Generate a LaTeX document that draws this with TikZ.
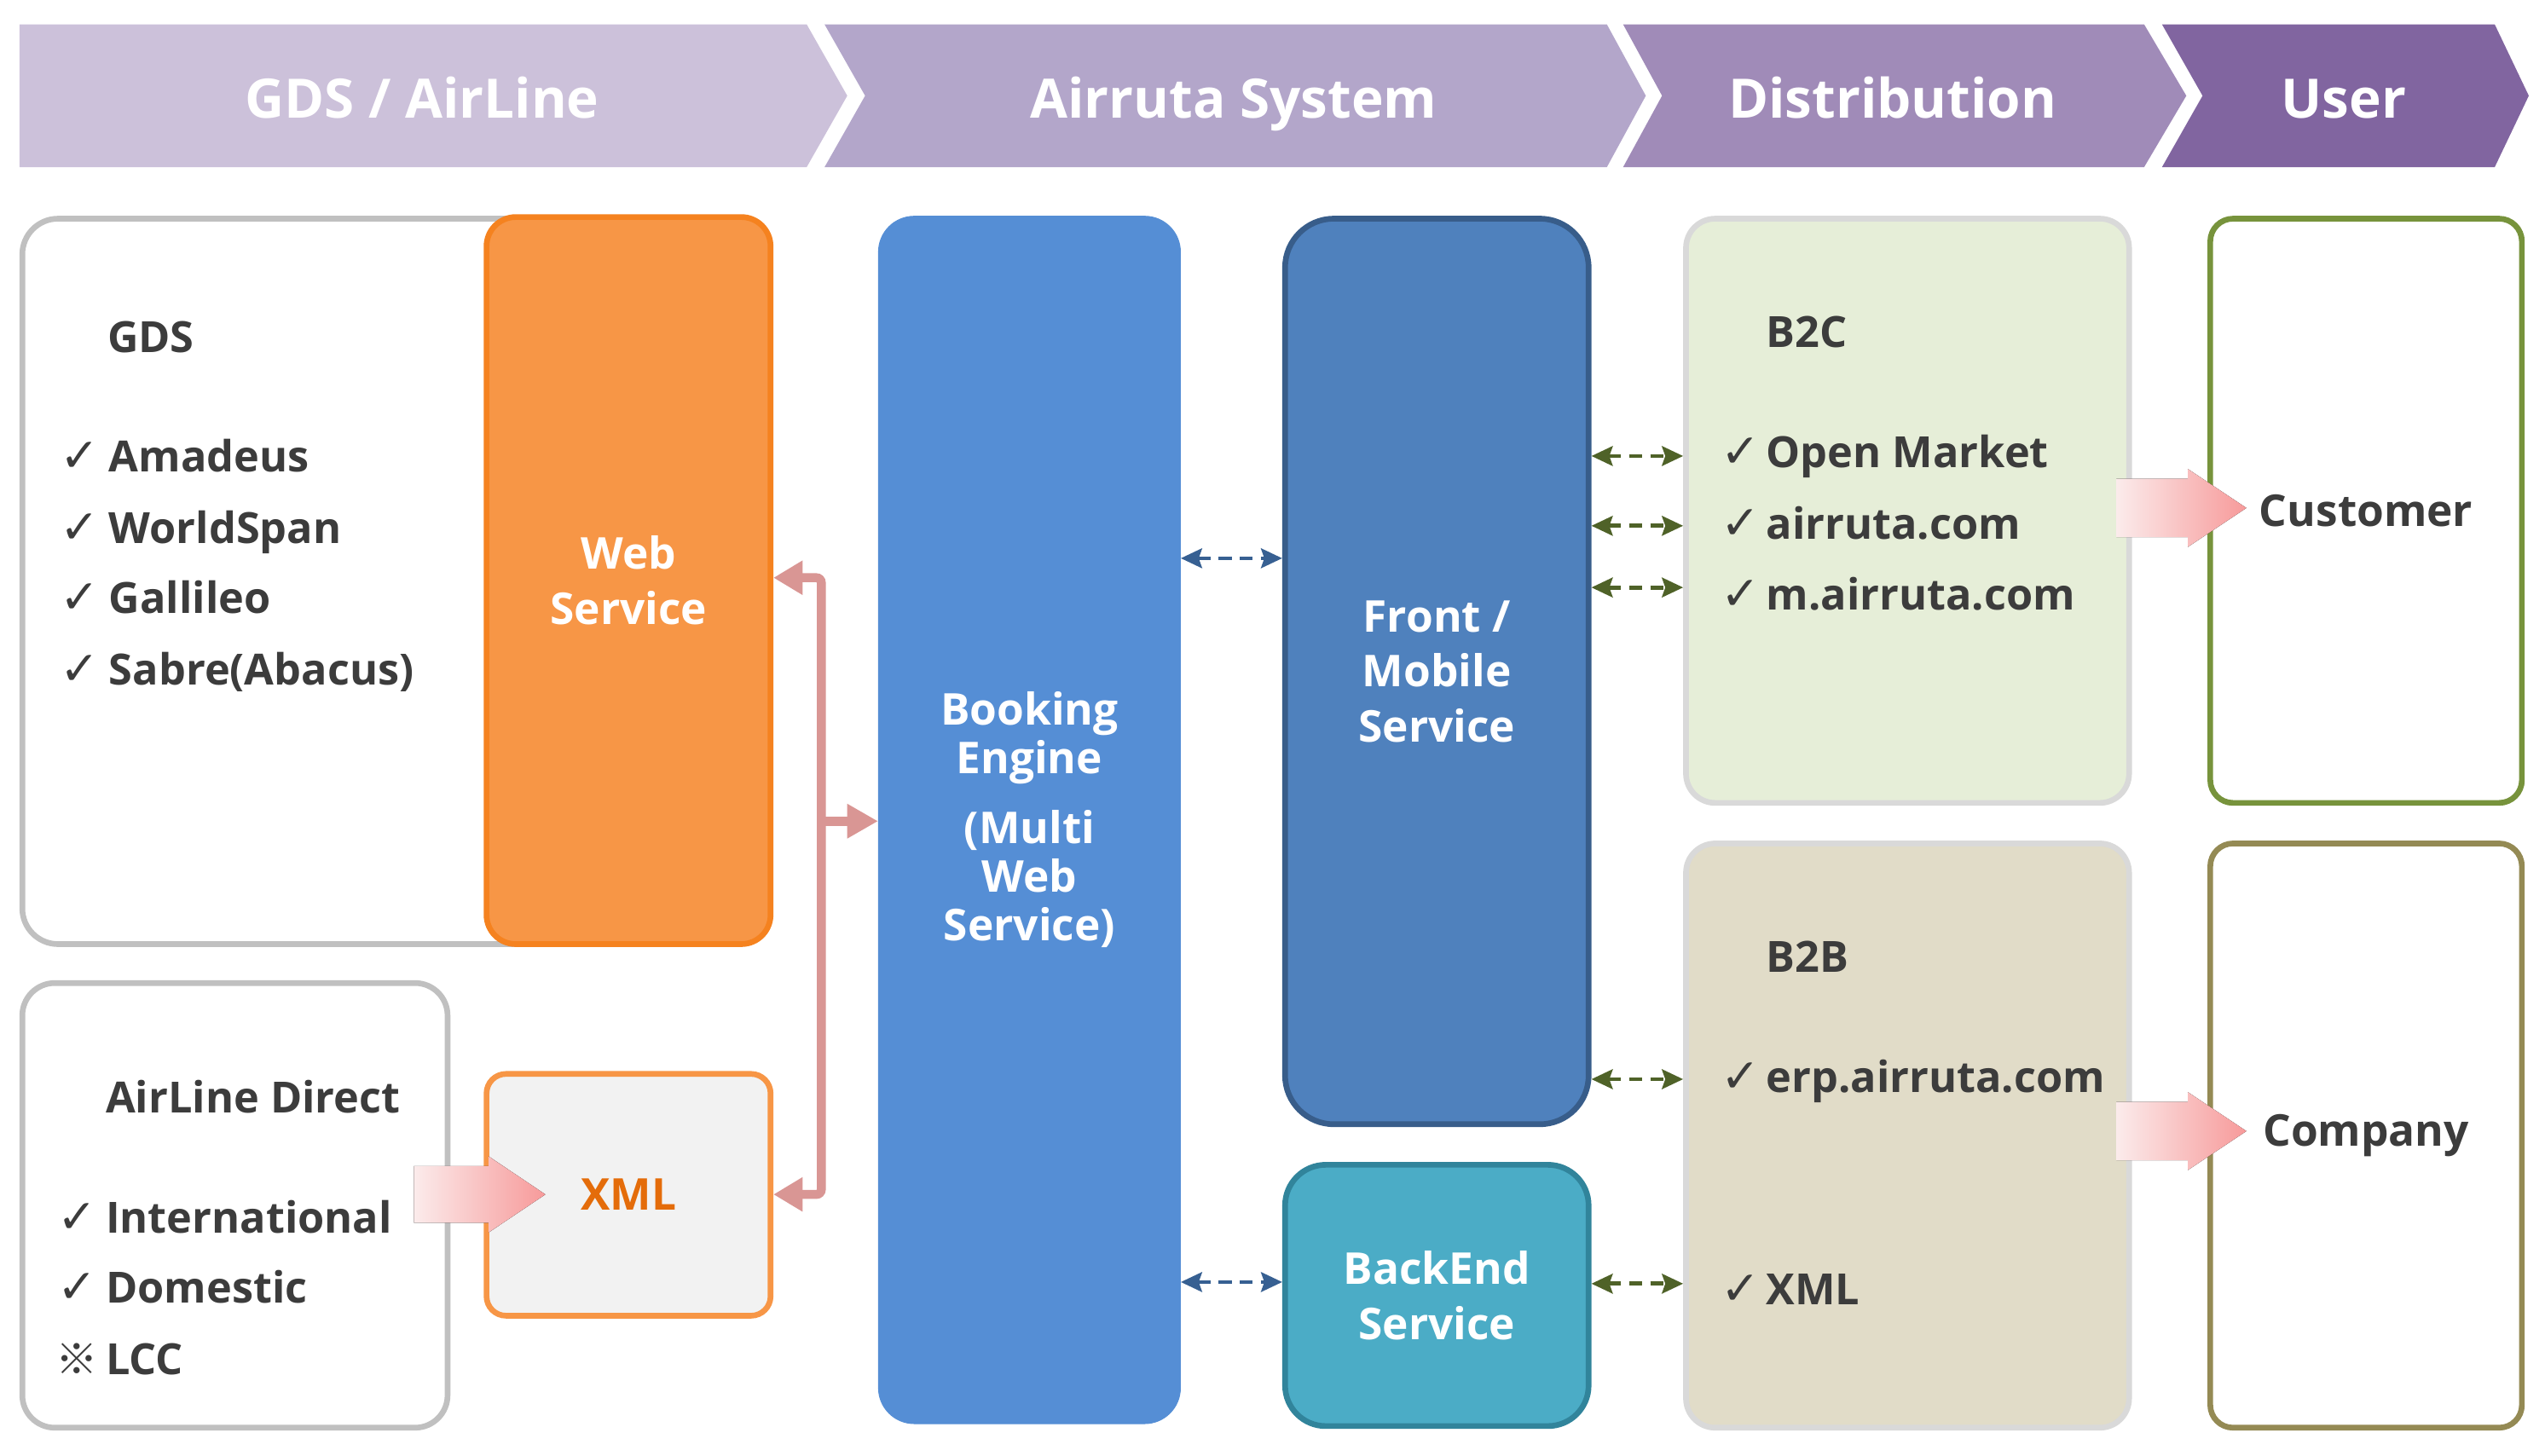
\documentclass[tikz,border=0pt]{standalone}
\usepackage{fontspec}
\setmainfont{Open Sans}
\newfontfamily\symfont{DejaVu Sans}
\newfontfamily\cjkfont{Noto Sans CJK KR}
\usetikzlibrary{arrows.meta}
\definecolor{banA}{HTML}{CCC1DA}
\definecolor{banB}{HTML}{B3A6CA}
\definecolor{banC}{HTML}{A08BB8}
\definecolor{banD}{HTML}{8165A0}
\definecolor{txt}{HTML}{3C3C3C}
\definecolor{gbord}{HTML}{C0C0C0}
\definecolor{orfill}{HTML}{F79646}
\definecolor{ordraw}{HTML}{F5821F}
\definecolor{xmlfill}{HTML}{F2F2F2}
\definecolor{xmltxt}{HTML}{E46C0A}
\definecolor{bookfill}{HTML}{558ED5}
\definecolor{frontfill}{HTML}{4F81BD}
\definecolor{frontdraw}{HTML}{385D8A}
\definecolor{backfill}{HTML}{4BACC6}
\definecolor{backdraw}{HTML}{31849B}
\definecolor{b2cfill}{HTML}{E6EED8}
\definecolor{b2bfill}{HTML}{E1DCC8}
\definecolor{lgbord}{HTML}{D9D9D9}
\definecolor{custdraw}{HTML}{77933C}
\definecolor{compdraw}{HTML}{948A54}
\definecolor{pinkline}{HTML}{D99694}
\definecolor{bluedash}{HTML}{376092}
\definecolor{greendash}{HTML}{4F6228}
\definecolor{arrowpink}{HTML}{F79A9A}
\definecolor{arrowpale}{HTML}{FBEBEB}
\newcommand{\mychk}{\makebox[30pt][l]{\mdseries\symfont\fontsize{29}{29}\selectfont ✓}}
\newcommand{\mychkb}{\makebox[28pt][l]{\mdseries\symfont\fontsize{29}{29}\selectfont ✓}}
\newcommand{\mykome}{\makebox[31pt][l]{\mdseries\cjkfont\fontsize{26}{26}\selectfont ※}}
\begin{document}
\begin{tikzpicture}[x=1pt,y=-1pt,
  box/.style={rectangle, line width=3.5pt, inner sep=0pt, anchor=north west},
  lbl/.style={text=white, font=\fontsize{27}{34}\selectfont\bfseries, align=center},
  itemtxt/.style={text=txt, font=\fontsize{26.5}{34}\selectfont\bfseries, inner sep=0pt, anchor=base west},
  bantxt/.style={text=white, font=\fontsize{33.5}{40}\selectfont\bfseries, inner sep=0pt, anchor=base},
  bdash/.style={draw=bluedash, line width=2.5pt, dash pattern=on 8pt off 5pt,
     {Stealth[length=13pt,width=12pt,inset=2pt]}-{Stealth[length=13pt,width=12pt,inset=2pt]}},
  gdash/.style={draw=greendash, line width=2.5pt, dash pattern=on 8pt off 5pt,
     {Stealth[length=13pt,width=12pt,inset=2pt]}-{Stealth[length=13pt,width=12pt,inset=2pt]}},
  pinkconn/.style={draw=pinkline, line width=5.5pt},
  blockarrow/.style={left color=arrowpale, right color=arrowpink}
]
\useasboundingbox (0,0) rectangle (1568,897);

% ---- banner chevrons ----
\fill[banA] (12,15) -- (497,15) -- (522,59) -- (497,103) -- (12,103) -- cycle;
\fill[banB] (508,15) -- (990,15) -- (1014,59) -- (990,103) -- (508,103) -- (533,59) -- cycle;
\fill[banC] (1000,15) -- (1321,15) -- (1347,59) -- (1321,103) -- (1000,103) -- (1024,59) -- cycle;
\fill[banD] (1332,15) -- (1537,15) -- (1558,59) -- (1537,103) -- (1332,103) -- (1357,59) -- cycle;
\node[bantxt] (banGDS) at (260,72.5) {GDS / AirLine};
\node[bantxt] (banSys) at (760,72.5) {Airruta System};
\node[bantxt] (banDist) at (1166,72.5) {Distribution};
\node[bantxt] (banUser) at (1444,72.5) {User};

% ---- left column ----
\node[box, rounded corners=22pt, draw=gbord, fill=white, minimum width=368pt, minimum height=447pt] (gds) at (12,133) {};
\node[box, rounded corners=18pt, draw=ordraw, fill=orfill, minimum width=175pt, minimum height=448pt, lbl] (web) at (298,132) {Web\\Service};
\node[itemtxt] (gdsT) at (66,217) {GDS};
\node[itemtxt] (am) at (37,291) {\mychk Amadeus};
\node[itemtxt] (ws) at (37,335) {\mychk WorldSpan};
\node[itemtxt] (ga) at (37,378) {\mychk Gallileo};
\node[itemtxt] (sa) at (37,422) {\mychk Sabre(Abacus)};

\node[box, rounded corners=20pt, draw=gbord, fill=white, minimum width=262pt, minimum height=274pt] (adir) at (12,604) {};
\node[itemtxt] (adT) at (65,686) {AirLine Direct};
\node[itemtxt] (intl) at (35,760) {\mychk International};
\node[itemtxt] (dom) at (35,803) {\mychk Domestic};
\node[itemtxt] (lcc) at (34,847) {\mykome LCC};

\node[box, rounded corners=12pt, draw=orfill, fill=xmlfill, minimum width=175pt, minimum height=149pt, lbl, text=xmltxt] (xml) at (298,660) {XML};

% ---- system column ----
\node[box, rounded corners=22pt, draw=bookfill, line width=0.5pt, fill=bookfill, minimum width=186pt, minimum height=744pt, lbl, font=\fontsize{27}{30}\selectfont\bfseries] (booking) at (541,133) {Booking\\Engine\\[13pt](Multi\\Web\\Service)};
\node[box, rounded corners=30pt, draw=frontdraw, fill=frontfill, minimum width=187pt, minimum height=558pt, lbl] (front) at (790,133) {Front /\\Mobile\\Service};
\node[box, rounded corners=25pt, draw=backdraw, fill=backfill, minimum width=187pt, minimum height=161pt, lbl] (backend) at (790,716) {BackEnd\\Service};

% ---- distribution column ----
\node[box, rounded corners=18pt, draw=lgbord, fill=b2cfill, minimum width=273pt, minimum height=360pt] (b2c) at (1037,133) {};
\node[itemtxt] (b2cT) at (1088,214) {B2C};
\node[itemtxt] (om) at (1060,288) {\mychkb Open Market};
\node[itemtxt] (ac) at (1060,332) {\mychkb airruta.com};
\node[itemtxt] (mac) at (1060,376) {\mychkb m.airruta.com};

\node[box, rounded corners=18pt, draw=lgbord, fill=b2bfill, minimum width=273pt, minimum height=360pt] (b2b) at (1037,518) {};
\node[itemtxt] (b2bT) at (1088,599) {B2B};
\node[itemtxt] (erp) at (1060,673) {\mychkb erp.airruta.com};
\node[itemtxt] (bxml) at (1060,804) {\mychkb XML};

% ---- user column ----
\node[box, rounded corners=14pt, draw=custdraw, fill=white, minimum width=192pt, minimum height=360pt, lbl, text=txt] (cust) at (1360,133) {Customer};
\node[box, rounded corners=14pt, draw=compdraw, fill=white, minimum width=192pt, minimum height=360pt, lbl, text=txt] (comp) at (1360,518) {Company};

% ---- pink bus connector ----
\coordinate (busT) at (506,356);
\coordinate (busB) at (506,736);
\coordinate (busM) at (506,506);
\draw[pinkconn, rounded corners=3pt, {Triangle[length=18pt,width=20pt]}-{Triangle[length=18pt,width=20pt]}]
  (web.east |- busT) -- (busT) -- (busB) -- (xml.east |- busB);
\draw[pinkconn, -{Triangle[length=19pt,width=20pt]}] (busM) -- (booking.west |- busM);

% ---- dashed connectors ----
\coordinate (yA) at (0,344);
\coordinate (yB) at (0,790);
\coordinate (yC) at (0,281);
\coordinate (yD) at (0,324);
\coordinate (yE) at (0,362);
\coordinate (yF) at (0,665);
\coordinate (yG) at (0,791);
\draw[bdash] (booking.east |- yA) -- (front.west |- yA);
\draw[bdash] (booking.east |- yB) -- (backend.west |- yB);
\draw[gdash] (front.east |- yC) -- (b2c.west |- yC);
\draw[gdash] (front.east |- yD) -- (b2c.west |- yD);
\draw[gdash] (front.east |- yE) -- (b2c.west |- yE);
\draw[gdash] (front.east |- yF) -- (b2b.west |- yF);
\draw[gdash] (backend.east |- yG) -- (b2b.west |- yG);

% ---- block arrows ----
\fill[blockarrow] (255,718.5) -- (301,718.5) -- (301,712.5) -- (336,736) -- (301,759.5) -- (301,753.5) -- (255,753.5) -- cycle;
\fill[blockarrow] (1304,295) -- (1348,295) -- (1348,289) -- (1384,313) -- (1348,337) -- (1348,331) -- (1304,331) -- cycle;
\fill[blockarrow] (1304,679) -- (1348,679) -- (1348,673) -- (1384,697) -- (1348,721) -- (1348,715) -- (1304,715) -- cycle;
\end{tikzpicture}
\end{document}
